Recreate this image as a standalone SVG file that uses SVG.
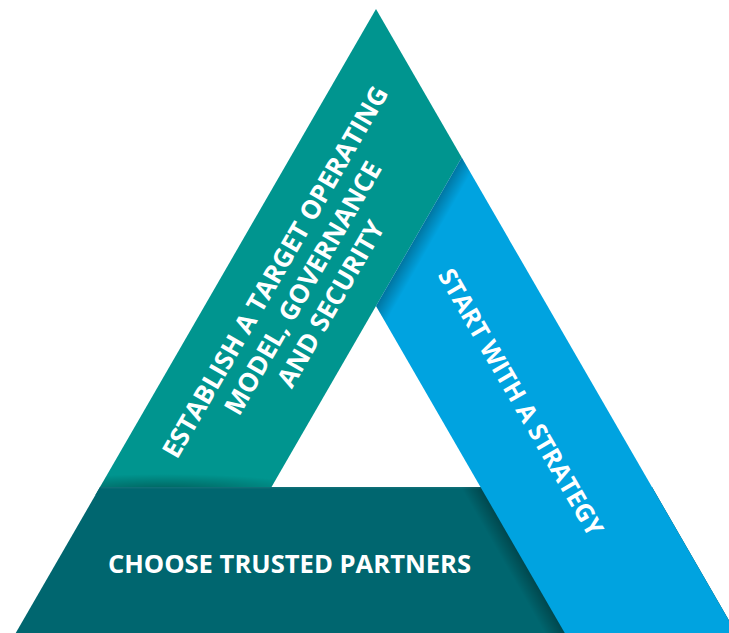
<svg xmlns="http://www.w3.org/2000/svg" width="729" height="633" viewBox="0 0 729 633">
  <defs>
    <style>
      .lbl { font-family: "Open Sans", "Liberation Sans", sans-serif; font-weight: 700; fill: #ffffff; text-anchor: middle; }
    </style>
    <!-- shadow cast by the bottom band onto the green band -->
    <radialGradient id="shGreen" gradientUnits="userSpaceOnUse" cx="0" cy="0" r="1" gradientTransform="translate(165,490) scale(150,16)">
      <stop offset="0" stop-color="#000" stop-opacity="0.35"/>
      <stop offset="1" stop-color="#000" stop-opacity="0"/>
    </radialGradient>
    <!-- shadow cast by the green band onto the blue band -->
    <linearGradient id="shBlue" gradientUnits="userSpaceOnUse" x1="419" y1="231.75" x2="433" y2="239.75">
      <stop offset="0" stop-color="#000" stop-opacity="0.28"/>
      <stop offset="1" stop-color="#000" stop-opacity="0"/>
    </linearGradient>
    <!-- shadow cast by the blue band onto the bottom band -->
    <linearGradient id="shBottom" gradientUnits="userSpaceOnUse" x1="522.6" y1="560" x2="507.5" y2="568.7">
      <stop offset="0" stop-color="#000" stop-opacity="0.3"/>
      <stop offset="1" stop-color="#000" stop-opacity="0"/>
    </linearGradient>
  </defs>

  <rect width="729" height="633" fill="#ffffff"/>

  <!-- left band -->
  <g id="governance">
    <polygon points="376,9 461.74,157.5 266.9,495 95.4,495" fill="#00958F"/>
    <polygon points="376,9 461.74,157.5 266.9,495 95.4,495" fill="url(#shGreen)"/>
  </g>

  <!-- bottom band -->
  <g id="partners">
    <polygon points="100.03,487 651.97,487 740.3,640 11.7,640" fill="#00666F"/>
    <polygon points="100.03,487 651.97,487 740.3,640 11.7,640" fill="url(#shBottom)"/>
    <line x1="100.5" y1="487.7" x2="482" y2="487.7" stroke="#ffffff" stroke-opacity="0.06" stroke-width="1.5"/>
  </g>

  <!-- right band -->
  <g id="strategy">
    <polygon points="461.74,157.5 740.3,640 568.8,640 376,306" fill="#00A3E0"/>
    <polygon points="461.74,157.5 740.3,640 568.8,640 376,306" fill="url(#shBlue)"/>
  </g>

  <!-- labels -->
  <g id="label-governance" transform="translate(303,288) rotate(-60)">
    <text class="lbl" x="0" y="-23" font-size="26">ESTABLISH A TARGET OPERATING</text>
    <text class="lbl" x="0" y="9" font-size="26">MODEL, GOVERNANCE</text>
    <text class="lbl" x="0" y="41" font-size="26">AND SECURITY</text>
  </g>
  <g id="label-strategy" transform="translate(521,402) rotate(60)">
    <text class="lbl" x="0" y="9" font-size="25">START WITH A STRATEGY</text>
  </g>
  <g id="label-partners">
    <text class="lbl" x="289.5" y="573" font-size="25.6">CHOOSE TRUSTED PARTNERS</text>
  </g>
</svg>
